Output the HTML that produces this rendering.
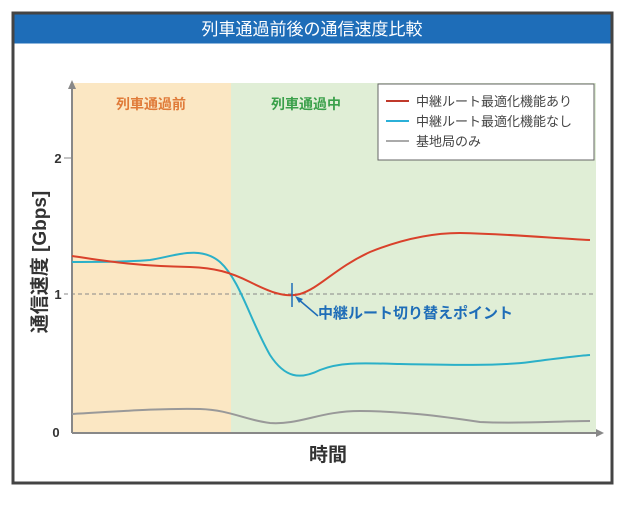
<!DOCTYPE html>
<html><head><meta charset="utf-8"><style>
body{margin:0;background:#fff;width:618px;height:500px;overflow:hidden}
svg text{font-family:"Liberation Sans","Noto Sans CJK JP",sans-serif}
</style></head><body>
<svg width="618" height="500" viewBox="0 0 618 500">
<rect x="0" y="0" width="618" height="500" fill="#fff"/>
<rect x="13" y="13" width="599" height="470" fill="#fff" stroke="#444" stroke-width="3"/>
<rect x="14.5" y="14.5" width="596" height="29" fill="#1e6db8"/>
<text x="312" y="35" font-size="17" fill="#fff" text-anchor="middle">列車通過前後の通信速度比較</text>
<rect x="72" y="83" width="159" height="350" fill="#fbe7c3"/>
<rect x="231" y="83" width="365" height="350" fill="#e0eed6"/>
<line x1="72" y1="433" x2="72" y2="86" stroke="#888" stroke-width="2"/>
<polygon points="72,80 68,89 76,89" fill="#888"/>
<line x1="72" y1="433" x2="598" y2="433" stroke="#888" stroke-width="2"/>
<polygon points="604,433 596,429 596,437" fill="#888"/>
<line x1="64" y1="158" x2="72" y2="158" stroke="#888"/>
<line x1="64" y1="294" x2="596" y2="294" stroke="#888" stroke-dasharray="4,3"/>
<text x="58" y="163" font-size="13" font-weight="bold" fill="#333" text-anchor="middle">2</text>
<text x="58" y="299" font-size="13" font-weight="bold" fill="#333" text-anchor="middle">1</text>
<text x="56" y="437" font-size="13" font-weight="bold" fill="#333" text-anchor="middle">0</text>
<text transform="translate(46,262) rotate(-90)" font-size="19" font-weight="bold" fill="#333" text-anchor="middle">通信速度 [Gbps]</text>
<text x="328" y="461" font-size="19" font-weight="bold" fill="#333" text-anchor="middle">時間</text>
<text x="151" y="109" font-size="14" font-weight="bold" fill="#e07b39" text-anchor="middle">列車通過前</text>
<text x="306" y="109" font-size="14" font-weight="bold" fill="#3aa04a" text-anchor="middle">列車通過中</text>
<rect x="378" y="84" width="216" height="76" fill="#fff" stroke="#666"/>
<line x1="386" y1="101" x2="409" y2="101" stroke="#c0392b" stroke-width="2"/>
<line x1="386" y1="121" x2="409" y2="121" stroke="#2bb0d8" stroke-width="2"/>
<line x1="386" y1="141" x2="409" y2="141" stroke="#aaa" stroke-width="2"/>
<text x="416" y="106" font-size="13" fill="#444">中継ルート最適化機能あり</text>
<text x="416" y="126" font-size="13" fill="#444">中継ルート最適化機能なし</text>
<text x="416" y="146" font-size="13" fill="#444">基地局のみ</text>
<path d="M72,414 C110,412 160,408 200,409 C230,410 245,420 270,423 C300,425 320,411 360,411 C400,411 440,416 480,422 C520,424 560,421 590,421" fill="none" stroke="#999" stroke-width="2"/>
<path d="M72,262 C100,262 130,262 150,260 C175,256 200,245 220,262 C240,280 250,320 270,355 C285,378 300,380 320,370 C340,362 360,363 400,364 C450,365 500,366 530,362 C560,358 575,356 590,355" fill="none" stroke="#2bb0c8" stroke-width="2"/>
<path d="M72,256 C100,260 130,266 190,267 C215,268 230,272 250,282 C270,292 285,298 300,294 C320,288 335,268 370,252 C400,240 430,233 460,233 C510,234 550,238 590,240" fill="none" stroke="#d9412b" stroke-width="2"/>
<line x1="292" y1="283" x2="292" y2="307" stroke="#1e6db8" stroke-width="1.5"/>
<line x1="318" y1="316" x2="298" y2="299" stroke="#1e6db8" stroke-width="1.5"/>
<polygon points="295,296 303,299 299,303" fill="#1e6db8"/>
<text x="318" y="318" font-size="15" font-weight="bold" fill="#1e6db8">中継ルート切り替えポイント</text>
</svg>
</body></html>
